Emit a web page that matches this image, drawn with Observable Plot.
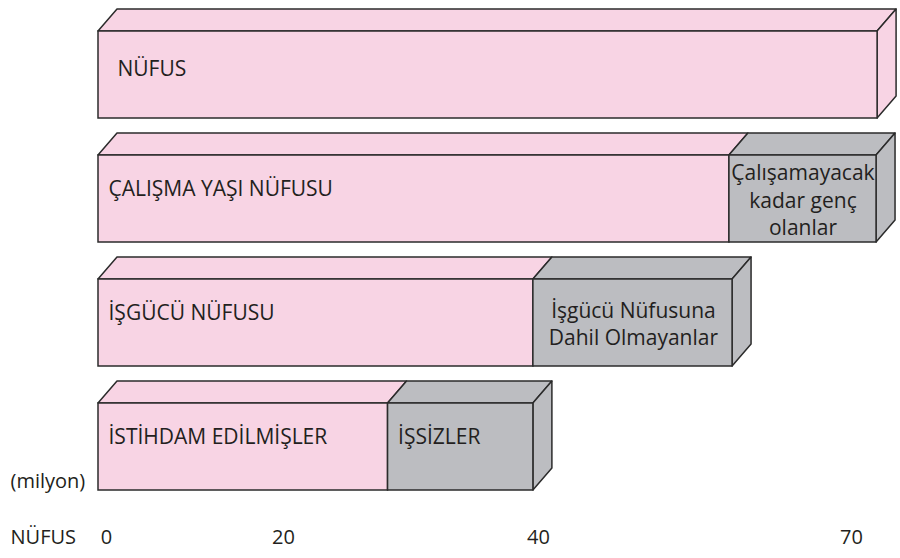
<!DOCTYPE html>
<html><head><meta charset="utf-8">
<script src="https://cdn.jsdelivr.net/npm/d3@7"></script>
<script src="https://cdn.jsdelivr.net/npm/@observablehq/plot@0.6"></script>
<style>body{margin:0;background:#fff;}</style>
</head><body><div id="chart"></div>
<script>
// ---- data ----
const rows = ["NÜFUS", "ÇALIŞMA YAŞI NÜFUSU", "İŞGÜCÜ NÜFUSU", "İSTİHDAM EDİLMİŞLER"];
const segRow   = [0, 1, 1, 2, 2, 3, 3];
const segStart = [0, 0, 58.3, 0, 39.6, 0, 28.2];
const segEnd   = [72.5, 58.3, 72.4, 39.6, 58.6, 28.2, 39.6];
const segKind  = ["main", "main", "rest", "main", "rest", "main", "rest"];
const segLabel = ["NÜFUS", "ÇALIŞMA YAŞI NÜFUSU", "Çalışamayacak\nkadar genç\nolanlar",
                  "İŞGÜCÜ NÜFUSU", "İşgücü Nüfusuna\nDahil Olmayanlar",
                  "İSTİHDAM EDİLMİŞLER", "İŞSİZLER"];
const tickValues = [0, 20, 40, 70];
const tickLabels = ["0", "20", "40", "70"];
const axisLabel = "NÜFUS";
const unitLabel = "(milyon)";

// ---- table ----
const segs = segRow.map((r, i) => ({
  row: rows[r], x1: segStart[i], x2: segEnd[i], kind: segKind[i], label: segLabel[i],
  last: segEnd[i] === Math.max(...segEnd.filter((_, j) => segRow[j] === r))
}));
const ticks = tickValues.map((v, i) => ({v, t: tickLabels[i]}));

const PINK = "#f8d4e4", GRAY = "#bcbdc1", EDGE = "#2b2b2b", INK = "#231f20";
const FONT = "21px", AXFONT = "20px";

// the printed axis is not evenly spaced: piecewise-linear warp between the tick values
const warp = d3.scaleLinear([0, 20, 40, 70], [0, 185, 440, 753]);

const plot = Plot.plot({
  width: 900, height: 558,
  marginTop: 30, marginBottom: 67, marginLeft: 98, marginRight: 49,
  style: {fontFamily: "'Open Sans', sans-serif", fontSize: FONT, color: INK, background: "#fff"},
  x: {type: "linear", transform: warp, domain: [0, 753], range: [98, 851], axis: null},
  y: {domain: rows, paddingInner: 0.3, paddingOuter: 0, axis: null},
  color: {domain: ["main", "rest"], range: [PINK, GRAY]},
  marks: [
    Plot.barX(segs, {y: "row", x1: "x1", x2: "x2", fill: "kind", stroke: EDGE, strokeWidth: 1.5}),
    Plot.text(segs.filter(d => d.kind === "main" && d.row === rows[0]),
      {y: "row", x: "x1", text: "label", textAnchor: "start", dx: 19, dy: -6, fontSize: FONT, fill: INK}),
    Plot.text(segs.filter(d => (d.kind === "main" && d.row !== rows[0]) || d.label === "İŞSİZLER"),
      {y: "row", x: "x1", text: "label", textAnchor: "start", dx: 10, dy: -10, fontSize: FONT, fill: INK}),
    Plot.text(segs.filter(d => d.kind === "rest" && d.label.includes("\n")),
      {y: "row", x: d => (d.x1 + d.x2) / 2, text: "label", textAnchor: "middle", lineHeight: 1.3, fontSize: FONT, fill: INK}),
    Plot.text(ticks.slice(0, 1), {x: "v", text: "t", frameAnchor: "bottom", dy: 52, dx: 8, fontSize: AXFONT, fill: INK}),
    Plot.text(ticks.slice(1), {x: "v", text: "t", frameAnchor: "bottom", dy: 52, fontSize: AXFONT, fill: INK}),
    Plot.text([axisLabel], {text: d => d, frameAnchor: "bottom-left", dx: -88, dy: 52, textAnchor: "start", fontSize: AXFONT, fill: INK}),
    Plot.text([unitLabel], {text: d => d, frameAnchor: "bottom-left", dx: -88, dy: -4, textAnchor: "start", fontSize: AXFONT, fill: INK})
  ]
});

// ---- 3D faces derived from the rendered bars ----
const svg = d3.select(plot);
const barG = svg.select('g[aria-label="bar"]');
const rects = barG.selectAll("rect").nodes();
const faces = svg.insert("g", 'g[aria-label="bar"]').attr("aria-label", "bar-depth")
  .attr("stroke", EDGE).attr("stroke-width", 1.5).attr("stroke-linejoin", "round");
const DX = 19, DY = 22;
rects.forEach((el, i) => {
  const x = +el.getAttribute("x"), y = +el.getAttribute("y");
  const w = +el.getAttribute("width"), h = +el.getAttribute("height");
  const fill = el.getAttribute("fill");
  faces.append("polygon")
    .attr("points", [[x, y], [x + DX, y - DY], [x + w + DX, y - DY], [x + w, y]].map(p => p.join(",")).join(" "))
    .attr("fill", fill);
  if (segs[i].last) {
    faces.append("polygon")
      .attr("points", [[x + w, y], [x + w + DX, y - DY], [x + w + DX, y + h - DY], [x + w, y + h]].map(p => p.join(",")).join(" "))
      .attr("fill", fill);
  }
});

document.getElementById("chart").appendChild(plot);
</script>
</body></html>
